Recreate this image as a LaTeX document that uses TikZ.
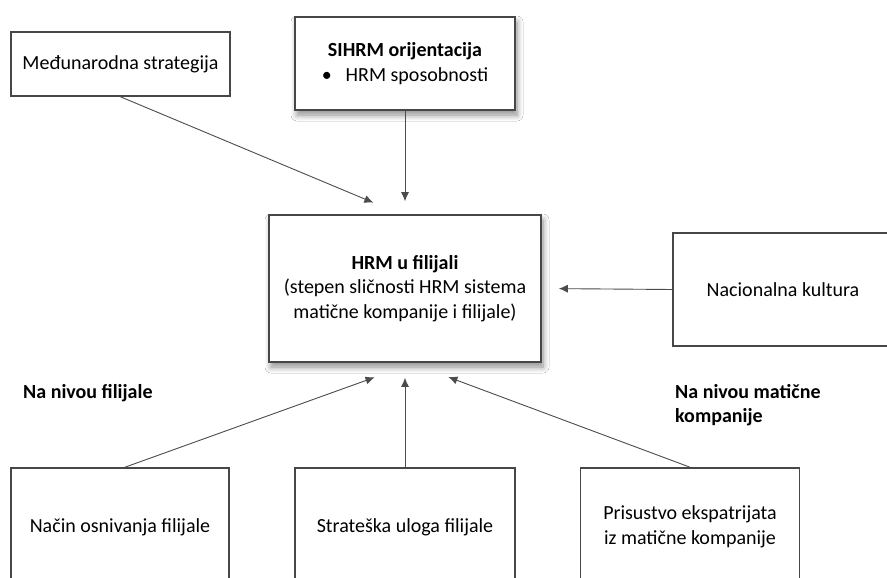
\documentclass[tikz,border=0pt]{standalone}
\usepackage{fontspec}
\setmainfont{Carlito}
\usetikzlibrary{arrows.meta,shadows.blur}
\tikzset{
  kutija/.style={draw=black!72, line width=1.6pt, fill=white, minimum width=220pt,
    align=center, inner sep=0pt},
  senka/.style={blur shadow={shadow xshift=2pt, shadow yshift=-5pt,
    shadow blur steps=8, shadow blur radius=6pt, shadow opacity=45}},
  veza/.style={draw=black!70, line width=0.9pt, -{Latex[length=9pt,width=8pt]}},
  natpis/.style={font=\fontsize{20}{24.5}\selectfont\bfseries, align=left, inner sep=0pt},
}
\begin{document}
\begin{tikzpicture}[x=1pt,y=-1pt,font=\fontsize{20}{24.5}\selectfont]
        \clip (0,0) rectangle (887,578);
        \fill[white] (0,0) rectangle (887,578);
        %gornji red
        \node[kutija, minimum width=219pt, minimum height=64pt] (medj) at (120.5,64) {Međunarodna strategija};
        \node[kutija, senka, minimum height=93pt] (sihrm) at (405,63.5)
                {\textbf{SIHRM orijentacija}\\ \textbullet\hspace{14pt}HRM sposobnosti};
        %HRM u filijali
        \node[kutija, senka, minimum width=272pt, minimum height=147pt] (hrm) at (405,288.5)
                {\textbf{HRM u filijali}\\(stepen sličnosti HRM sistema\\matične kompanije i filijale)};
        \node[kutija, minimum height=113pt] (kult) at (783,289.5) {Nacionalna kultura};
        %donji red
        \node[kutija, minimum width=218pt, minimum height=118pt] (nacin) at (120,527) {Način osnivanja filijale};
        \node[kutija, minimum height=118pt] (uloga) at (405,527) {Strateška uloga filijale};
        \node[kutija, minimum width=219pt, minimum height=118pt] (ekspat) at (690,527)
                {Prisustvo ekspatrijata\\iz matične kompanije};
        %nivoi
        \node[natpis, anchor=west] (nivofil) at (23,393) {Na nivou filijale};
        \node[natpis, anchor=west] (nivomat) at (675,405) {Na nivou matične\\kompanije};
        %strelice
        \draw[veza, shorten >=30pt] (medj.south) -- ([xshift=-4pt]hrm.north);
        \draw[veza, shorten >=13pt] (sihrm.south) -- (hrm.north);
        \draw[veza, shorten >=17pt] (kult.west) -- (hrm.east);
        \draw[veza, shorten >=43pt] ([xshift=5pt]nacin.north) -- ([xshift=10pt]hrm.south);
        \draw[veza, shorten >=15pt] (uloga.north) -- (hrm.south);
        \draw[veza, shorten >=41pt] (ekspat.north) -- ([xshift=5pt]hrm.south);
\end{tikzpicture}
\end{document}
